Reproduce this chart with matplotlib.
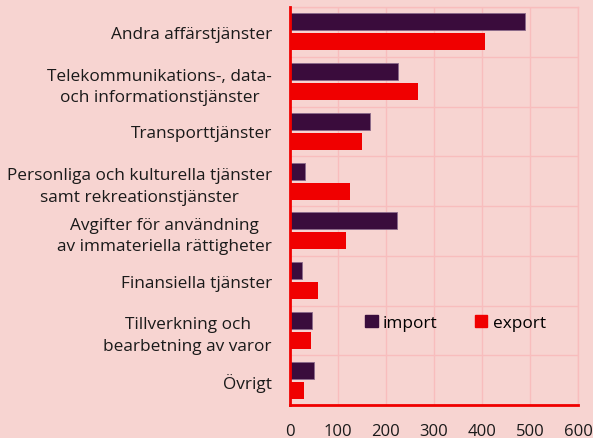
import numpy as np
import matplotlib.pyplot as plt
from matplotlib.patches import Patch

categories = [
    "Andra affärstjänster",
    "Telekommunikations-, data-\noch informationstjänster",
    "Transporttjänster",
    "Personliga och kulturella tjänster\nsamt rekreationstjänster",
    "Avgifter för användning\nav immateriella rättigheter",
    "Finansiella tjänster",
    "Tillverkning och\nbearbetning av varor",
    "Övrigt",
]
import_vals = [490, 226, 167, 32, 222, 26, 46, 49]
export_vals = [406, 266, 150, 125, 117, 59, 44, 30]
x_ticks = [0, 100, 200, 300, 400, 500, 600]

bg = "#f7d4d1"
grid_col = "#f8bdbd"
imp_col = "#3a0c3c"
exp_col = "#f00000"

plt.rcParams['font.family'] = ['Open Sans', 'DejaVu Sans']

fig = plt.figure(figsize=(5.93, 4.39), dpi=100, facecolor=bg)
ax = fig.add_axes([290 / 593, 33 / 439, 288 / 593, 398 / 439])
ax.set_facecolor(bg)

y = np.arange(len(categories))
ax.barh(y - 0.2, import_vals, height=0.34, color=imp_col, edgecolor="#8a6a8a", linewidth=0.6, zorder=3)
ax.barh(y + 0.2, export_vals, height=0.34, color=exp_col, zorder=3)

ax.set_ylim(len(categories) - 0.5, -0.5)
ax.set_xlim(0, 600)
ax.set_xticks(x_ticks)
ax.set_yticks(y)
ax.set_yticklabels(categories, fontsize=12.4, color="#1a1a1a", multialignment="center", linespacing=1.45)
ax.set_yticks(np.arange(-0.5, len(categories)), minor=True)
ax.tick_params(axis="y", which="both", length=0, pad=13)
ax.tick_params(axis="x", length=0, pad=13, labelsize=12, labelcolor="#1a1a1a")

ax.grid(True, axis="x", color=grid_col, linewidth=1, zorder=0)
ax.grid(True, axis="y", which="minor", color=grid_col, linewidth=1, zorder=0)

for side in ["top", "right"]:
    ax.spines[side].set_color(grid_col)
    ax.spines[side].set_linewidth(1)
for side in ["left", "bottom"]:
    ax.spines[side].set_color("#f00000")
    ax.spines[side].set_linewidth(2)
    ax.spines[side].set_zorder(4)

handles = [Patch(color=imp_col, label="import"), Patch(color=exp_col, label="export")]
ax.legend(handles=handles, ncol=2, frameon=False, loc="center",
          bbox_to_anchor=(0.575, 0.205), fontsize=12.4, handlelength=0.7,
          handleheight=0.7, handletextpad=0.3, columnspacing=2.2)

fig.savefig("out.png", dpi=100, facecolor=bg)
